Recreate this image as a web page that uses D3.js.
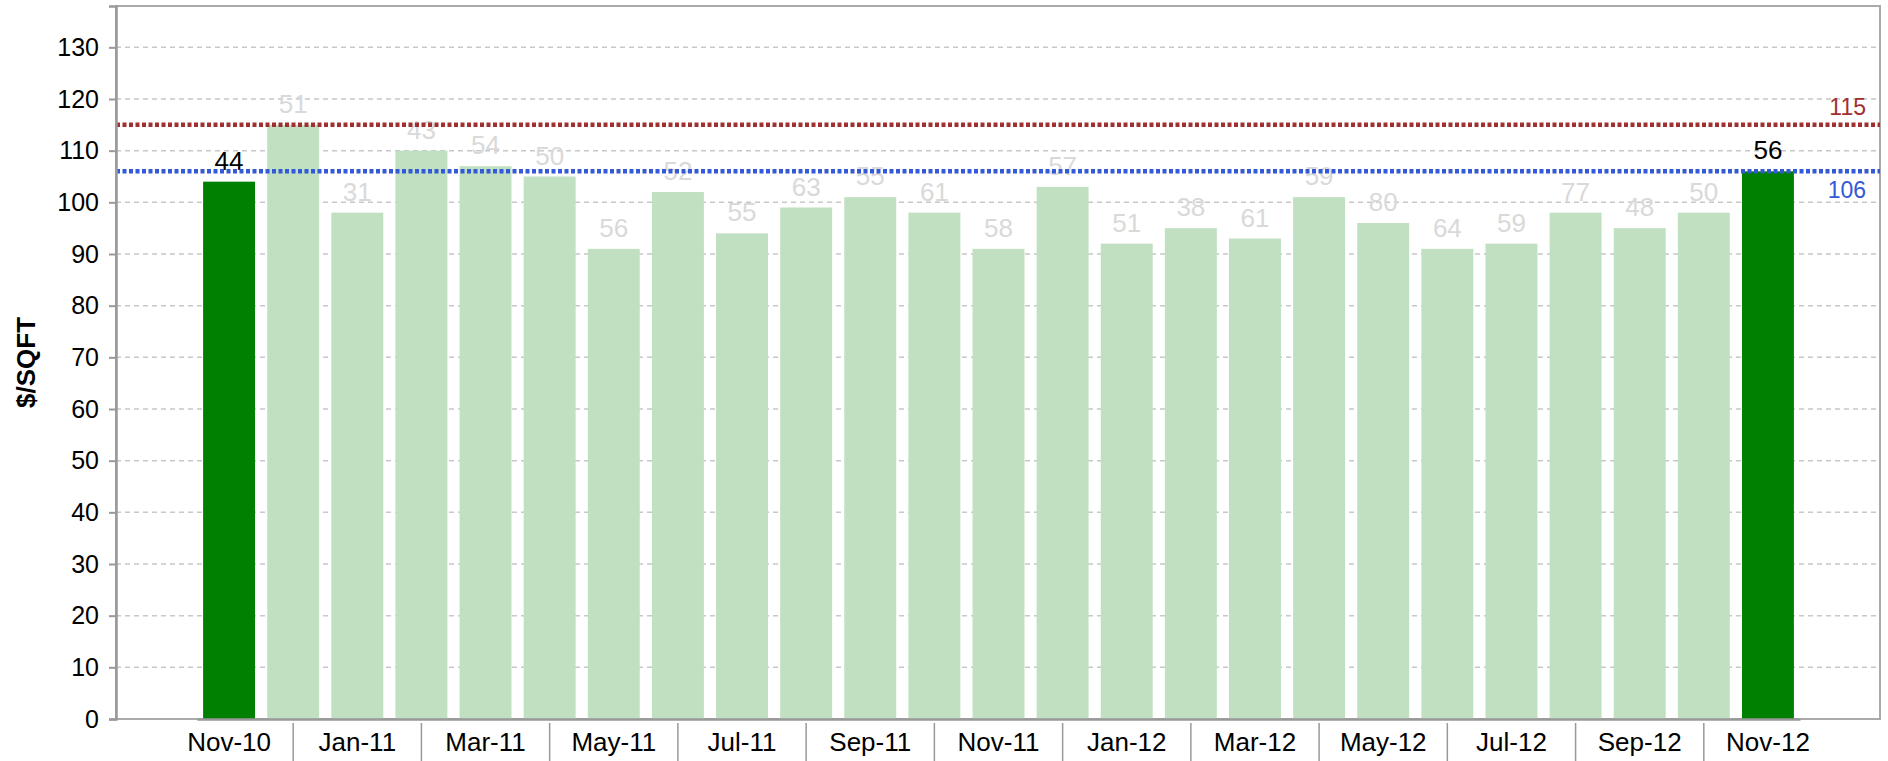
<!DOCTYPE html>
<html>
<head>
<meta charset="utf-8">
<script src="https://cdn.jsdelivr.net/npm/d3@7"></script>
<style>
  html, body { margin: 0; padding: 0; background: #fff; }
  svg { display: block; font-family: "Liberation Sans", Arial, sans-serif; }
</style>
</head>
<body>
<svg id="chart" width="1888" height="761"></svg>
<script>
const months = ["Nov-10","Dec-10","Jan-11","Feb-11","Mar-11","Apr-11","May-11","Jun-11","Jul-11","Aug-11","Sep-11","Oct-11","Nov-11","Dec-11","Jan-12","Feb-12","Mar-12","Apr-12","May-12","Jun-12","Jul-12","Aug-12","Sep-12","Oct-12","Nov-12"];
const pricePerSqft = [104,115,98,110,107,105,91,102,94,99,101,98,91,103,92,95,93,101,96,91,92,98,95,98,106];
const barLabels = [44,51,31,43,54,50,56,52,55,63,55,61,58,57,51,38,61,59,80,64,59,77,48,50,56];
const highlighted = ["Nov-10","Nov-12"];
const refValues = [115, 106];
const refColors = ["#a0302f", "#3359d6"];
const yTicks = [0,10,20,30,40,50,60,70,80,90,100,110,120,130];
const xLabelTicks = months.filter((d, i) => i % 2 === 0);
const xSepTicks = months.filter((d, i) => i % 2 === 1);
const yMax = 138;

const svg = d3.select("#chart");
const plot = {left: 116, right: 1880, top: 6, bottom: 719};

const x = d3.scaleBand().domain(months).range([197, 1800]).paddingInner(0.19).paddingOuter(0.095);
const y = d3.scaleLinear().domain([0, yMax]).range([plot.bottom, plot.top]);

// gridlines
svg.append("g").selectAll("line").data(yTicks.filter(d => d > 0)).join("line")
  .attr("x1", plot.left).attr("x2", plot.right)
  .attr("y1", d => y(d)).attr("y2", d => y(d))
  .attr("stroke", "#c8c8c8").attr("stroke-width", 1.5).attr("stroke-dasharray", "5,4");

// frame
svg.append("rect").attr("x", plot.left).attr("y", plot.top)
  .attr("width", plot.right - plot.left).attr("height", plot.bottom - plot.top)
  .attr("fill", "none").attr("stroke", "#aaaaaa").attr("stroke-width", 2);

// bars
svg.append("g").selectAll("rect").data(months).join("rect")
  .attr("x", d => x(d)).attr("width", x.bandwidth())
  .attr("y", (d, i) => y(pricePerSqft[i]))
  .attr("height", (d, i) => y(0) - y(pricePerSqft[i]))
  .attr("fill", d => highlighted.includes(d) ? "#008000" : "#c1dfc1");

// bar labels
svg.append("g").selectAll("text").data(months).join("text")
  .attr("x", d => x(d) + x.bandwidth() / 2)
  .attr("y", (d, i) => y(pricePerSqft[i]) - 12)
  .attr("text-anchor", "middle")
  .attr("font-size", 26)
  .attr("fill", d => highlighted.includes(d) ? "#000000" : "#d9d9d9")
  .text((d, i) => barLabels[i]);

// reference lines
svg.append("g").selectAll("line").data(refValues).join("line")
  .attr("x1", plot.left).attr("x2", plot.right)
  .attr("y1", d => y(d)).attr("y2", d => y(d))
  .attr("stroke", (d, i) => refColors[i]).attr("stroke-width", 4.5)
  .attr("stroke-dasharray", "4,2.5");

svg.append("g").selectAll("text").data(refValues).join("text")
  .attr("x", 1866)
  .attr("y", (d, i) => i === 0 ? y(d) - 10 : y(d) + 27)
  .attr("text-anchor", "end")
  .attr("font-size", 23)
  .attr("fill", (d, i) => refColors[i])
  .text(d => d);

// y axis
const yAxis = svg.append("g").attr("transform", `translate(${plot.left},0)`)
  .call(d3.axisLeft(y).tickValues(yTicks).tickSize(7).tickPadding(10).tickFormat(d3.format("d")));
yAxis.select(".domain").attr("stroke", "#999999").attr("stroke-width", 2.5);
yAxis.selectAll(".tick line").attr("stroke", "#999999").attr("stroke-width", 2);
yAxis.selectAll("text").attr("font-size", 25).attr("fill", "#000").attr("font-family", "Liberation Sans, Arial, sans-serif");

// x axis labels
const xAxis = svg.append("g").attr("transform", `translate(0,${plot.bottom})`)
  .call(d3.axisBottom(x).tickValues(xLabelTicks).tickSize(0).tickPadding(14).tickSizeOuter(0));
xAxis.select(".domain").attr("stroke", "#999999").attr("stroke-width", 2.5);
xAxis.selectAll("text").attr("font-size", 26).attr("fill", "#000").attr("font-family", "Liberation Sans, Arial, sans-serif");

// x separators
const xSep = svg.append("g").attr("transform", `translate(0,${plot.bottom + 4})`)
  .call(d3.axisBottom(x).tickValues(xSepTicks).tickSize(40).tickFormat(""));
xSep.select(".domain").remove();
xSep.selectAll(".tick line").attr("stroke", "#999999").attr("stroke-width", 1.5);

// y title
svg.append("text")
  .attr("transform", `translate(35,${(plot.top + plot.bottom) / 2}) rotate(-90)`)
  .attr("text-anchor", "middle")
  .attr("font-size", 26).attr("font-weight", "bold").attr("fill", "#000")
  .text("$/SQFT");
</script>
</body>
</html>
